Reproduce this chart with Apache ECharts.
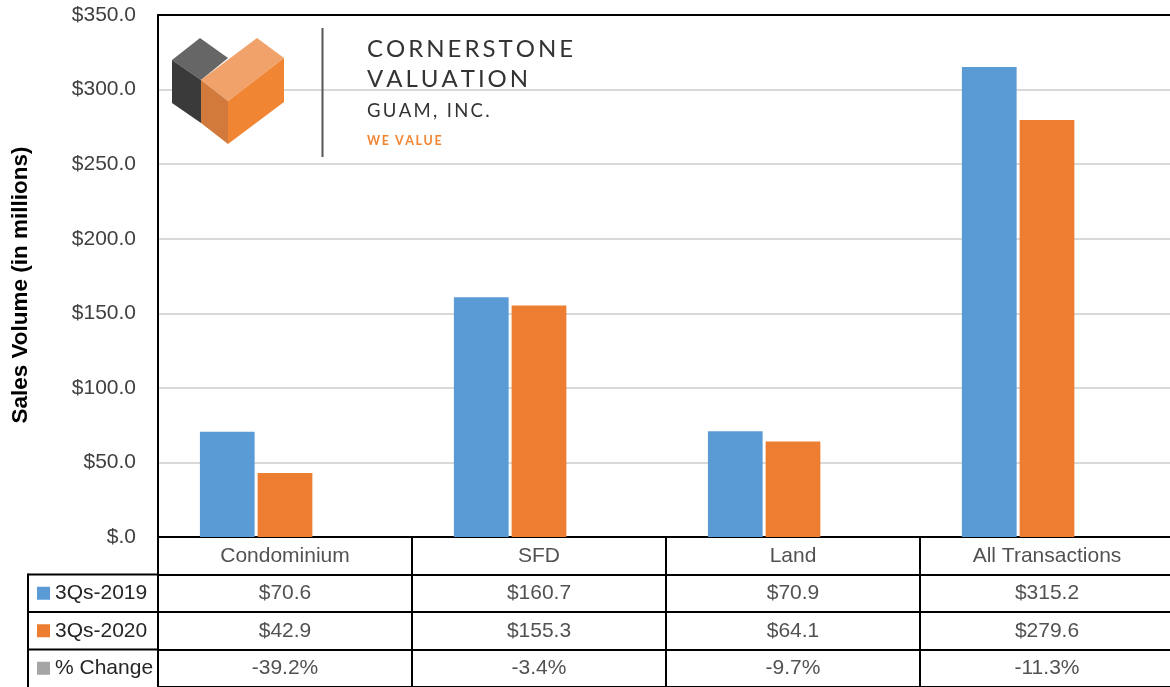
<!DOCTYPE html>
<html>
<head>
<meta charset="utf-8">
<script src="https://cdn.jsdelivr.net/npm/echarts@6/dist/echarts.min.js"></script>
<style>
  html, body { margin: 0; padding: 0; background: #fff; }
  #chart { width: 1170px; height: 687px; }
</style>
</head>
<body>
<div id="chart"></div>
<script>
// ---- data ----
const categories = ['Condominium', 'SFD', 'Land', 'All Transactions'];
const seriesNames = ['3Qs-2019', '3Qs-2020', '% Change'];
const sales2019 = [70.6, 160.7, 70.9, 315.2];
const sales2020 = [42.9, 155.3, 64.1, 279.6];
const pctChange = [-39.2, -3.4, -9.7, -11.3];
const yTickLabels = ['$.0', '$50.0', '$100.0', '$150.0', '$200.0', '$250.0', '$300.0', '$350.0'];
const yAxisTitle = 'Sales Volume (in millions)';
const logoLines = ['CORNERSTONE', 'VALUATION', 'GUAM, INC.', 'WE VALUE'];

// ---- styles ----
const colors = ['#5B9BD5', '#ED7D31', '#A5A5A5'];
const FONT = '"Liberation Sans", Arial, sans-serif';
const LOGOFONT = 'Lato, "DejaVu Sans", sans-serif';
const TXT = '#262626';

function spaced(s) { return s.split('').join('\u2009'); }

// table cell texts
const tableCells = [];
categories.forEach((c, i) => {
  tableCells.push([i, 0, c]);
  tableCells.push([i, 1, '$' + sales2019[i].toFixed(1)]);
  tableCells.push([i, 2, '$' + sales2020[i].toFixed(1)]);
  tableCells.push([i, 3, pctChange[i].toFixed(1) + '%']);
});

const chart = echarts.init(document.getElementById('chart'), null, { renderer: 'canvas' });

const blackLine = { show: true, lineStyle: { color: '#000', width: 2 } };

const option = {
  backgroundColor: '#fff',
  animation: false,
  grid: [
    { left: 158, width: 1016, top: 15, height: 522, outerBoundsMode: 'none', containLabel: false },
    { left: 158, width: 1016, top: 537, height: 150, outerBoundsMode: 'none', containLabel: false }
  ],
  xAxis: [
    {
      gridIndex: 0, type: 'category', data: categories, position: 'bottom',
      axisLine: blackLine, axisTick: { show: false }, axisLabel: { show: false }, splitLine: { show: false }
    },
    {
      gridIndex: 1, type: 'category', data: categories,
      axisLine: { show: false }, axisTick: { show: false }, axisLabel: { show: false },
      splitLine: { show: true, interval: 0, lineStyle: { color: '#000', width: 2 } }
    },
    {
      gridIndex: 0, type: 'category', data: categories, position: 'top',
      axisLine: blackLine, axisTick: { show: false }, axisLabel: { show: false }, splitLine: { show: false }
    }
  ],
  yAxis: [
    {
      gridIndex: 0, type: 'value', min: 0, max: 350, interval: 50,
      axisLine: blackLine, axisTick: { show: false },
      axisLabel: {
        margin: 22, fontFamily: FONT, fontSize: 21, color: '#404040',
        formatter: (v) => yTickLabels[Math.round(v / 50)]
      },
      splitLine: { show: true, lineStyle: { color: '#D9D9D9', width: 2 } }
    },
    {
      gridIndex: 1, type: 'category', inverse: true,
      data: [''].concat(seriesNames),
      axisLine: { show: false }, axisTick: { show: false },
      axisLabel: {
        align: 'left', margin: 121,
        formatter: (v, idx) => idx === 0 ? '' : '{s' + (idx - 1) + '|}{t|' + v + '}',
        rich: {
          s0: { width: 13, height: 13, backgroundColor: colors[0] },
          s1: { width: 13, height: 13, backgroundColor: colors[1] },
          s2: { width: 13, height: 13, backgroundColor: colors[2] },
          t: { fontFamily: FONT, fontSize: 21, color: TXT, padding: [0, 0, 0, 5] }
        }
      },
      splitLine: { show: true, interval: 0, lineStyle: { color: '#000', width: 2 } }
    }
  ],
  series: [
    {
      name: seriesNames[0], type: 'bar', xAxisIndex: 0, yAxisIndex: 0,
      data: sales2019, itemStyle: { color: colors[0] },
      barGap: '5.5%', barCategoryGap: '33%'
    },
    {
      name: seriesNames[1], type: 'bar', xAxisIndex: 0, yAxisIndex: 0,
      data: sales2020, itemStyle: { color: colors[1] }
    },
    {
      name: seriesNames[2], type: 'bar', xAxisIndex: 0, yAxisIndex: 0,
      data: pctChange.map(v => v / 100), itemStyle: { color: colors[2] }
    },
    {
      name: 'table', type: 'scatter', xAxisIndex: 1, yAxisIndex: 1,
      symbolSize: 0, silent: true, data: tableCells,
      label: {
        show: true, position: 'inside', formatter: (p) => p.value[2],
        fontFamily: FONT, fontSize: 21, color: TXT
      }
    }
  ],
  graphic: [
    // y axis title
    { type: 'text', x: 21, y: 285, rotation: Math.PI / 2,
      style: { text: yAxisTitle, font: 'bold 22.5px ' + FONT, fill: '#000', align: 'center', verticalAlign: 'middle' } },
    // legend column frame of the data table
    { type: 'line', shape: { x1: 28, y1: 574.5, x2: 158, y2: 574.5 }, style: { stroke: '#000', lineWidth: 2 } },
    { type: 'line', shape: { x1: 28, y1: 612, x2: 158, y2: 612 }, style: { stroke: '#000', lineWidth: 2 } },
    { type: 'line', shape: { x1: 28, y1: 649.5, x2: 158, y2: 649.5 }, style: { stroke: '#000', lineWidth: 2 } },
    { type: 'line', shape: { x1: 28, y1: 573.5, x2: 28, y2: 687 }, style: { stroke: '#000', lineWidth: 2 } },
    // logo
    { type: 'polygon', z: 50, shape: { points: [[172, 60], [200, 38], [228, 58], [201, 80]] }, style: { fill: '#666666' } },
    { type: 'polygon', z: 50, shape: { points: [[172, 60], [201, 80], [201, 123], [172, 103]] }, style: { fill: '#3A3A3A' } },
    { type: 'polygon', z: 50, shape: { points: [[201, 80], [257, 38], [284, 58], [228, 101]] }, style: { fill: '#F1A26B' } },
    { type: 'polygon', z: 50, shape: { points: [[201, 80], [228, 101], [228, 144], [201, 123]] }, style: { fill: '#D27A3C' } },
    { type: 'polygon', z: 50, shape: { points: [[228, 101], [284, 58], [284, 102], [228, 144]] }, style: { fill: '#F08533' } },
    { type: 'line', z: 50, shape: { x1: 322.5, y1: 28, x2: 322.5, y2: 157 }, style: { stroke: '#555', lineWidth: 2 } },
    { type: 'text', z: 50, x: 367, y: 49, style: { text: spaced(logoLines[0]), font: '24px ' + LOGOFONT, fill: '#333', verticalAlign: 'middle' } },
    { type: 'text', z: 50, x: 367, y: 79, style: { text: spaced(logoLines[1]), font: '24px ' + LOGOFONT, fill: '#333', verticalAlign: 'middle' } },
    { type: 'text', z: 50, x: 367, y: 111, style: { text: spaced(logoLines[2]), font: '18.5px ' + LOGOFONT, fill: '#333', verticalAlign: 'middle' } },
    { type: 'text', z: 50, x: 367, y: 141, style: { text: spaced(logoLines[3]), font: 'bold 12.5px ' + LOGOFONT, fill: '#F08533', verticalAlign: 'middle' } }
  ]
};

chart.setOption(option);
</script>
</body>
</html>
